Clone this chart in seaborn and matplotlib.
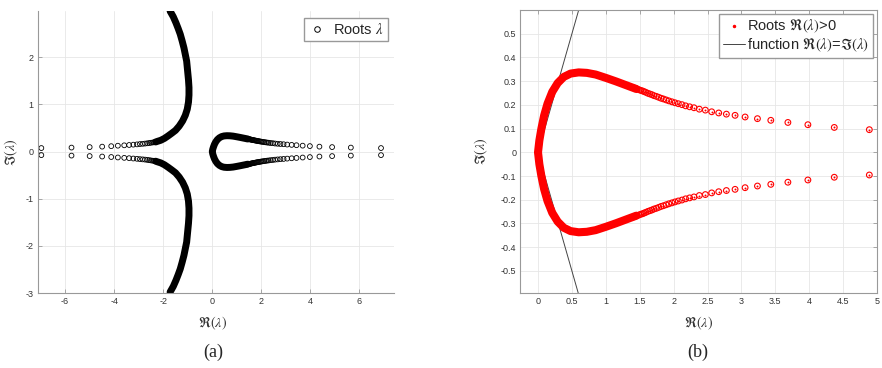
import matplotlib
matplotlib.use('Agg')
import matplotlib.pyplot as plt
import seaborn as sns
from matplotlib.lines import Line2D

# Roots with Re>0 (upper half; lower half is the complex conjugate)
loop_x_dense = [0.0, 0.02, 0.05, 0.09, 0.14, 0.21, 0.29, 0.38, 0.48, 0.60, 0.72, 0.85, 1.00, 1.15, 1.30, 1.45]
loop_y_dense = [0.0, 0.05, 0.10, 0.155, 0.205, 0.255, 0.292, 0.318, 0.332, 0.337, 0.335, 0.328, 0.314, 0.299, 0.283, 0.267]
loop_x_pts = [1.40, 1.43, 1.46, 1.49, 1.515, 1.54, 1.565, 1.59, 1.62, 1.65, 1.68, 1.71, 1.745, 1.78, 1.815,
              1.85, 1.89, 1.93, 1.975, 2.02, 2.069, 2.123, 2.177, 2.236, 2.300, 2.379, 2.468, 2.561, 2.665,
              2.778, 2.906, 3.054, 3.236, 3.433, 3.685, 3.980, 4.369, 4.886, 5.65, 6.88]
loop_y_pts = [0.273, 0.270, 0.267, 0.264, 0.261, 0.259, 0.256, 0.253, 0.249, 0.246, 0.243, 0.239, 0.236, 0.232,
              0.228, 0.225, 0.221, 0.217, 0.213, 0.209, 0.205, 0.201, 0.196, 0.192, 0.188, 0.182, 0.178,
              0.171, 0.166, 0.161, 0.156, 0.149, 0.142, 0.135, 0.126, 0.1165, 0.105, 0.0955, 0.085, 0.075]

# Roots with Re<0 (upper half)
left_x_pts = [-6.97, -5.74, -5.00, -4.49, -4.12, -3.85, -3.59, -3.39, -3.22, -3.07, -2.95, -2.84, -2.74,
              -2.65, -2.57, -2.50, -2.43, -2.37, -2.31]
left_y_pts = [0.075, 0.085, 0.095, 0.105, 0.115, 0.125, 0.133, 0.140, 0.147, 0.153, 0.160, 0.165, 0.170,
              0.176, 0.182, 0.188, 0.193, 0.198, 0.204]
left_x_dense = [-2.31, -2.25, -2.10, -1.95, -1.80, -1.65, -1.50, -1.35, -1.21, -1.10, -1.02, -0.97, -0.95,
                -0.95, -0.97, -1.00, -1.045, -1.10, -1.155, -1.23, -1.306, -1.39, -1.48, -1.59, -1.72]
left_y_dense = [0.204, 0.215, 0.240, 0.280, 0.333, 0.390, 0.450, 0.540, 0.650, 0.770, 0.900, 1.050, 1.200,
                1.360, 1.520, 1.680, 1.920, 2.060, 2.200, 2.350, 2.490, 2.610, 2.730, 2.860, 2.980]

# function Re(lambda) = |Im(lambda)|
func_x = [0.6, 0.0, 0.6]
func_y = [0.6, 0.0, -0.6]

ticks_a_x = [-6, -4, -2, 0, 2, 4, 6]
ticks_a_y = [-3, -2, -1, 0, 1, 2]
ticks_b_x = [0, 0.5, 1, 1.5, 2, 2.5, 3, 3.5, 4, 4.5, 5]
ticks_b_x_lab = ['0', '0.5', '1', '1.5', '2', '2.5', '3', '3.5', '4', '4.5', '5']
ticks_b_y = [-0.5, -0.4, -0.3, -0.2, -0.1, 0, 0.1, 0.2, 0.3, 0.4, 0.5]
ticks_b_y_lab = ['-0.5', '-0.4', '-0.3', '-0.2', '-0.1', '0', '0.1', '0.2', '0.3', '0.4', '0.5']


def conj(v):
    return [-a for a in v]


def band(xs, ys):
    # closed band through the conjugate pair: lower half reversed, then upper half
    return xs[::-1] + xs, conj(ys)[::-1] + ys


sns.set_theme(style='white')
plt.rcParams['font.family'] = ['Liberation Sans', 'DejaVu Sans']
plt.rcParams['mathtext.fontset'] = 'stix'
plt.rcParams['axes.unicode_minus'] = False

fig = plt.figure(figsize=(8.82, 3.68), dpi=100)
ax1 = fig.add_axes([0.0427, 0.2038, 0.4043, 0.766])
ax2 = fig.add_axes([0.590, 0.2038, 0.4044, 0.769])

# ---- (a) all roots
bx, by = band(loop_x_dense, loop_y_dense)
sns.lineplot(x=bx, y=by, sort=False, estimator=None, ax=ax1, color='black', lw=5,
             solid_capstyle='round', solid_joinstyle='round')
lx, ly = left_x_dense, left_y_dense
sns.lineplot(x=lx, y=ly, sort=False, estimator=None, ax=ax1, color='black', lw=5, solid_capstyle='round')
sns.lineplot(x=lx, y=conj(ly), sort=False, estimator=None, ax=ax1, color='black', lw=5, solid_capstyle='round')
all_x = loop_x_pts + loop_x_pts + left_x_pts + left_x_pts
all_y = loop_y_pts + conj(loop_y_pts) + left_y_pts + conj(left_y_pts)
sns.scatterplot(x=all_x, y=all_y, ax=ax1, s=12, facecolor='none', edgecolor='black', linewidth=0.6)

ax1.set_xlim(-7.12, 7.42)
ax1.set_ylim(-3.0, 2.98)
ax1.set_xticks(ticks_a_x)
ax1.set_yticks(ticks_a_y)
ax1.grid(True, color='#e6e6e6', lw=0.6)
for s in ['top', 'right']:
    ax1.spines[s].set_visible(False)
h1 = [Line2D([], [], ls='', marker='o', mfc='none', mec='black', ms=4, mew=0.7)]
ax1.legend(h1, [r'Roots $\lambda$'], loc='upper right', fontsize=10.5, fancybox=False,
           edgecolor='#999999', framealpha=1, borderaxespad=0.45, handletextpad=0.5,
           borderpad=0.3, handlelength=1.2)
ax1.set_xlabel(r'$\Re(\lambda)$', fontsize=10, color='#333333')
ax1.set_ylabel(r'$\Im(\lambda)$', fontsize=10, color='#333333')
ax1.xaxis.set_label_coords(0.49, -0.075)
ax1.yaxis.set_label_coords(-0.05, 0.5)

# ---- (b) roots with Re>0
sns.lineplot(x=func_x, y=func_y, sort=False, estimator=None, ax=ax2, color='#444444', lw=0.7)
sns.lineplot(x=bx, y=by, sort=False, estimator=None, ax=ax2, color='red', lw=5.8,
             solid_capstyle='round', solid_joinstyle='round')
px = loop_x_pts + loop_x_pts
py = loop_y_pts + conj(loop_y_pts)
sns.scatterplot(x=px, y=py, ax=ax2, s=17, facecolor='none', edgecolor='red', linewidth=0.8)
sns.scatterplot(x=px, y=py, ax=ax2, s=2, color='red', linewidth=0)

ax2.set_xlim(-0.26, 5.0)
ax2.set_ylim(-0.593, 0.6)
ax2.set_xticks(ticks_b_x, ticks_b_x_lab)
ax2.set_yticks(ticks_b_y, ticks_b_y_lab)
ax2.grid(True, color='#e6e6e6', lw=0.6)
h2 = [Line2D([], [], ls='', marker='.', color='red', ms=3),
      Line2D([], [], color='#444444', lw=0.7)]
ax2.legend(h2, [r'Roots $\Re(\lambda)$>0', r'function $\Re(\lambda)$=$\Im(\lambda)$'],
           loc='upper right', fontsize=10.5, fancybox=False, edgecolor='#999999', framealpha=1,
           borderaxespad=0.3, handletextpad=0.15, borderpad=0.25, labelspacing=0.1,
           handlelength=1.5)
ax2.set_xlabel(r'$\Re(\lambda)$', fontsize=10, color='#333333')
ax2.set_ylabel(r'$\Im(\lambda)$', fontsize=10, color='#333333')
ax2.xaxis.set_label_coords(0.5, -0.075)
ax2.yaxis.set_label_coords(-0.085, 0.5)

for ax in (ax1, ax2):
    for s in ax.spines.values():
        s.set_color('#999999')
        s.set_linewidth(0.8)
    ax.tick_params(direction='in', length=3, width=0.6, color='#999999', labelsize=6.5,
                   labelcolor='#333333', pad=3)
ax2.tick_params(top=True, right=True)
ax1.tick_params(left=True, bottom=True)

fig.text(0.2415, 0.042, '(a)', ha='center', va='center', fontsize=13, family='Liberation Serif')
fig.text(0.791, 0.042, '(b)', ha='center', va='center', fontsize=13, family='Liberation Serif')

fig.savefig('out.png', dpi=100)
